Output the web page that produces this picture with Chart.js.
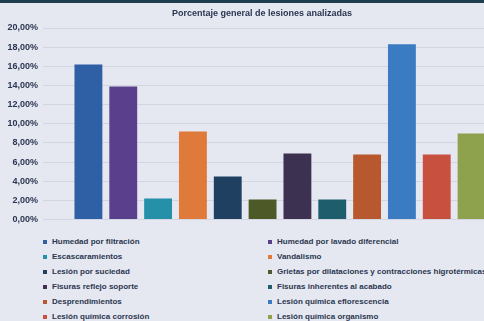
<!DOCTYPE html>
<html lang="es">
<head>
    <meta charset="UTF-8">
    <title>Porcentaje general de lesiones analizadas</title>
    <script src="https://cdn.jsdelivr.net/npm/chart.js"></script>
    <style>
        html, body {
            margin: 0;
            padding: 0;
            width: 484px;
            height: 321px;
            overflow: hidden;
            background-color: #e5e7f1;
            font-family: "Liberation Sans", Arial, sans-serif;
        }
        #band {
            position: absolute;
            left: 0; top: 0;
            width: 484px; height: 3px;
            background: #1e3d4f;
        }
        #titulo {
            position: absolute;
            left: 162px; top: 8px;
            width: 200px;
            text-align: center;
            font-size: 9px;
            font-weight: bold;
            color: #2b3750;
            white-space: nowrap;
        }
        #wrap {
            position: absolute;
            left: 0; top: 0;
            width: 524px;
            height: 230px;
        }
        #legend {
            position: absolute;
            left: 40px;
            top: 234px;
            width: 600px;
            display: grid;
            grid-template-columns: 225px 375px;
            grid-auto-rows: 15px;
            font-size: 8px;
            font-weight: bold;
            color: #2b3750;
            white-space: nowrap;
        }
        .item { display: flex; align-items: center; }
        .box { width: 4px; height: 4px; margin: 0 5px 0 3px; }
    </style>
</head>
<body>
    <div id="band"></div>
    <div id="wrap"><canvas id="lesiones"></canvas></div>
    <div id="titulo">Porcentaje general de lesiones analizadas</div>
    <div id="legend"></div>

    <script>
        const categorias = [
            'Humedad por filtración',
            'Humedad por lavado diferencial',
            'Escascaramientos',
            'Vandalismo',
            'Lesión por suciedad',
            'Grietas por dilataciones y contracciones higrotérmicas',
            'Fisuras reflejo soporte',
            'Fisuras inherentes al acabado',
            'Desprendimientos',
            'Lesión química eflorescencia',
            'Lesión química corrosión',
            'Lesión química organismo'
        ];
        const porcentajes = [16.2, 13.9, 2.2, 9.2, 4.5, 2.1, 6.9, 2.1, 6.8, 18.3, 6.8, 9.0];
        const colores = ['#2f5fa5', '#5a3f8c', '#2590a8', '#e07a3a', '#1f4060', '#4d5a28',
                         '#3d3152', '#1d5d6c', '#b8582e', '#3b7bc2', '#c8503f', '#8ea24e'];
        const ticksY = [0, 2, 4, 6, 8, 10, 12, 14, 16, 18, 20];

        // legend in two columns, same order as the bars
        const legend = document.getElementById('legend');
        categorias.forEach((c, i) => {
            const el = document.createElement('div');
            el.className = 'item';
            el.innerHTML = '<span class="box" style="background:' + colores[i] + '"></span>' + c;
            legend.appendChild(el);
        });

        const ctx = document.getElementById('lesiones').getContext('2d');
        new Chart(ctx, {
            type: 'bar',
            data: {
                labels: categorias,
                datasets: [{
                    data: porcentajes,
                    backgroundColor: colores,
                    categoryPercentage: 1,
                    barPercentage: 0.8
                }]
            },
            options: {
                responsive: true,
                maintainAspectRatio: false,
                animation: false,
                layout: { padding: { left: 4, right: 35, bottom: 3, top: 28 } },
                plugins: {
                    legend: { display: false },
                    tooltip: { enabled: false }
                },
                scales: {
                    x: {
                        ticks: { display: false },
                        grid: { display: false },
                        border: { display: false },
                        afterFit: (s) => { s.height = 0; }
                    },
                    y: {
                        min: 0,
                        max: 20,
                        afterBuildTicks: (s) => { s.ticks = ticksY.map(v => ({ value: v })); },
                        afterFit: (s) => { s.width = 67; },
                        border: { display: false },
                        grid: { color: '#d3d6e2', tickLength: 28, tickColor: '#d3d6e2' },
                        ticks: {
                            padding: 5,
                            color: '#2b3750',
                            font: { family: 'Liberation Sans', size: 9, weight: 'bold' },
                            callback: (v) => v.toFixed(2).replace('.', ',') + '%'
                        }
                    }
                }
            }
        });
    </script>
</body>
</html>
